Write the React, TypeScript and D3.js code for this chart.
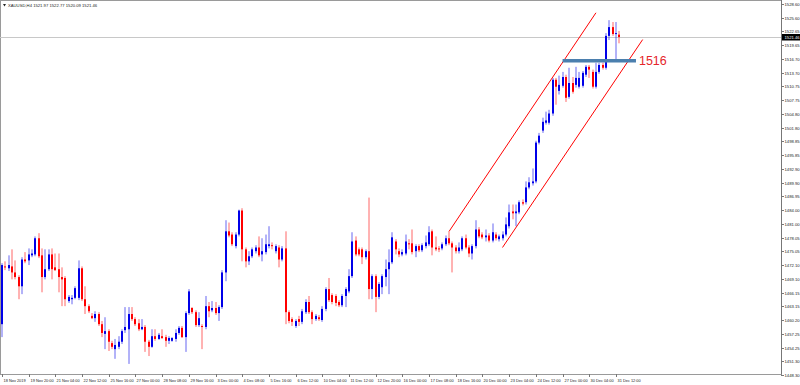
import React, { useEffect, useRef } from 'react';
import * as d3 from 'd3';

// XAUUSD H4, values
const symbol = 'XAUUSD,H4';

const opens = [
  1459.3, 1471.8, 1471.4, 1471.8, 1470.5, 1469.5, 1467.5, 1473.3, 1473.1, 1474.2,
  1474.4, 1477.9, 1474.2, 1469.5, 1471.2, 1474.4, 1471.6, 1471.2, 1469.5, 1469.3,
  1464.3, 1464.7, 1465.0, 1465.0, 1471.4, 1464.7, 1463.2, 1461.1, 1460.6, 1461.5,
  1459.3, 1457.2, 1457.8, 1455.2, 1453.9, 1454.4, 1455.5, 1458.0, 1458.2, 1461.5,
  1460.4, 1459.5, 1458.2, 1458.7, 1455.5, 1454.4, 1456.7, 1456.1, 1456.7, 1456.5,
  1455.7, 1455.7, 1456.1, 1457.4, 1458.5, 1456.5, 1461.7, 1462.8, 1461.9, 1459.1,
  1458.9, 1458.7, 1463.2, 1462.3, 1462.8, 1461.7, 1463.0, 1470.5, 1479.4, 1478.7,
  1476.2, 1478.7, 1483.9, 1475.5, 1472.9, 1474.0, 1475.1, 1475.9, 1474.4, 1474.9,
  1476.2, 1476.4, 1475.1, 1475.9, 1473.3, 1475.7, 1461.9, 1460.4, 1458.9, 1460.4,
  1459.8, 1461.9, 1464.1, 1461.9, 1460.4, 1460.8, 1460.2, 1462.6, 1466.9, 1465.6,
  1465.4, 1464.1, 1463.4, 1465.4, 1466.4, 1469.7, 1477.4, 1475.5, 1475.5, 1473.8,
  1475.1, 1466.9, 1469.7, 1465.2, 1467.3, 1469.5, 1471.2, 1472.7, 1477.2, 1475.1,
  1474.4, 1474.6, 1476.8, 1476.8, 1475.1, 1476.2, 1475.3, 1476.2, 1476.6, 1479.4,
  1475.9, 1475.7, 1475.7, 1476.6, 1477.9, 1476.8, 1475.9, 1475.1, 1475.5, 1477.9,
  1475.9, 1474.6, 1476.2, 1479.8, 1478.7, 1478.1, 1478.5, 1477.4, 1478.7, 1477.7,
  1477.9, 1478.7, 1480.5, 1483.7, 1483.3, 1483.5, 1485.7, 1485.7, 1488.9, 1489.8,
  1490.2, 1498.6, 1501.2, 1502.9, 1502.9, 1504.9, 1512.2, 1509.8, 1510.9, 1512.8,
  1508.5, 1511.5, 1511.1, 1510.7, 1510.9, 1513.3, 1515.0, 1513.9, 1510.7, 1513.9,
  1515.4, 1514.8, 1521.7, 1523.6, 1522.1, 1521.97,
];

const highs = [
  1472.5, 1472.9, 1474.2, 1475.5, 1473.1, 1469.9, 1473.8, 1474.9, 1475.7, 1475.5,
  1478.3, 1479.0, 1475.7, 1475.5, 1475.5, 1475.7, 1474.6, 1474.6, 1471.6, 1469.7,
  1465.6, 1465.6, 1467.5, 1473.1, 1471.8, 1467.5, 1463.6, 1461.7, 1462.1, 1461.9,
  1460.0, 1460.8, 1458.2, 1455.7, 1456.1, 1456.7, 1458.2, 1463.0, 1463.0, 1463.0,
  1460.8, 1460.4, 1460.4, 1459.1, 1455.9, 1458.2, 1458.2, 1457.4, 1458.2, 1457.0,
  1456.7, 1456.5, 1458.2, 1458.9, 1458.9, 1462.1, 1466.9, 1463.0, 1462.3, 1461.9,
  1459.3, 1465.4, 1464.1, 1464.3, 1464.1, 1463.4, 1471.0, 1481.8, 1481.3, 1479.2,
  1479.2, 1484.1, 1484.4, 1475.9, 1475.1, 1475.9, 1476.4, 1478.3, 1477.9, 1478.7,
  1480.5, 1477.0, 1476.6, 1476.4, 1476.2, 1479.4, 1462.3, 1460.8, 1460.4, 1461.1,
  1462.6, 1464.7, 1465.4, 1462.3, 1461.5, 1461.3, 1463.2, 1467.3, 1469.3, 1466.0,
  1465.8, 1464.5, 1465.8, 1467.3, 1471.2, 1479.2, 1478.3, 1475.9, 1475.9, 1475.5,
  1486.7, 1470.1, 1470.1, 1468.4, 1470.1, 1473.3, 1475.5, 1479.2, 1477.7, 1475.7,
  1475.5, 1478.7, 1477.7, 1479.8, 1476.6, 1476.6, 1476.8, 1478.5, 1480.5, 1479.8,
  1478.3, 1476.2, 1477.0, 1478.5, 1479.4, 1477.2, 1476.4, 1477.0, 1478.3, 1478.7,
  1476.4, 1476.6, 1481.8, 1480.3, 1479.2, 1479.8, 1479.0, 1481.1, 1479.2, 1478.7,
  1479.4, 1482.4, 1485.2, 1485.2, 1485.2, 1486.1, 1486.3, 1490.2, 1491.1, 1493.0,
  1499.0, 1500.7, 1504.0, 1505.3, 1505.7, 1512.6, 1512.6, 1513.1, 1513.9, 1513.3,
  1514.8, 1512.8, 1515.0, 1513.9, 1514.1, 1515.4, 1515.4, 1514.4, 1515.9, 1515.9,
  1515.9, 1522.3, 1525.1, 1524.7, 1524.7, 1522.77,
];

const lows = [
  1456.5, 1471.0, 1470.8, 1469.0, 1469.0, 1464.7, 1465.8, 1472.5, 1472.1, 1473.8,
  1474.0, 1473.6, 1466.2, 1469.0, 1470.8, 1469.0, 1470.8, 1466.2, 1463.2, 1463.2,
  1463.9, 1463.6, 1464.7, 1464.5, 1464.3, 1461.5, 1461.7, 1460.4, 1459.8, 1458.9,
  1456.5, 1453.9, 1453.5, 1453.9, 1451.8, 1453.9, 1455.0, 1457.4, 1450.7, 1460.0,
  1458.9, 1457.8, 1458.0, 1453.3, 1452.4, 1454.2, 1455.7, 1455.9, 1456.1, 1454.4,
  1455.0, 1455.5, 1455.5, 1457.0, 1456.3, 1453.3, 1461.3, 1461.5, 1458.7, 1458.7,
  1453.9, 1458.2, 1460.8, 1461.9, 1461.3, 1460.0, 1462.6, 1468.6, 1478.1, 1476.2,
  1475.7, 1478.3, 1472.9, 1471.6, 1472.1, 1473.6, 1474.6, 1473.8, 1472.9, 1474.4,
  1475.7, 1475.5, 1474.6, 1471.6, 1472.9, 1459.3, 1459.5, 1458.9, 1458.5, 1458.9,
  1459.3, 1461.5, 1461.5, 1459.3, 1460.0, 1460.0, 1459.8, 1462.1, 1464.1, 1463.6,
  1463.2, 1463.0, 1463.0, 1463.0, 1466.0, 1469.3, 1474.0, 1474.0, 1472.3, 1473.3,
  1464.7, 1464.7, 1461.9, 1464.7, 1465.8, 1467.5, 1465.8, 1472.3, 1474.4, 1473.8,
  1474.0, 1474.2, 1475.5, 1474.4, 1473.8, 1474.9, 1474.9, 1475.7, 1476.2, 1474.2,
  1475.1, 1474.9, 1475.3, 1476.2, 1476.4, 1470.5, 1474.6, 1474.6, 1475.1, 1475.5,
  1473.8, 1473.3, 1475.7, 1477.9, 1477.7, 1477.2, 1477.0, 1477.0, 1477.4, 1477.2,
  1477.4, 1478.3, 1480.0, 1482.0, 1480.5, 1483.1, 1485.0, 1485.2, 1488.5, 1489.3,
  1489.8, 1498.2, 1500.7, 1502.5, 1502.5, 1504.4, 1506.8, 1509.0, 1510.5, 1507.4,
  1508.1, 1509.2, 1510.5, 1510.3, 1510.5, 1512.8, 1512.6, 1510.3, 1510.3, 1513.5,
  1514.4, 1514.4, 1520.8, 1521.7, 1516.5, 1520.09,
];

const closes = [
  1472.1, 1471.6, 1472.1, 1470.5, 1469.5, 1467.5, 1473.3, 1472.9, 1474.4, 1474.6,
  1477.9, 1474.0, 1469.5, 1471.2, 1474.4, 1471.2, 1471.0, 1469.5, 1469.0, 1464.7,
  1465.2, 1465.0, 1467.1, 1471.4, 1464.7, 1463.2, 1462.1, 1460.6, 1461.5, 1459.3,
  1457.4, 1457.8, 1455.5, 1454.4, 1454.8, 1455.5, 1457.8, 1458.7, 1461.5, 1460.4,
  1459.3, 1458.2, 1458.7, 1455.5, 1454.4, 1456.7, 1456.1, 1457.0, 1456.3, 1455.7,
  1456.3, 1456.3, 1457.4, 1458.5, 1456.5, 1461.7, 1466.4, 1461.9, 1459.1, 1460.6,
  1458.7, 1463.2, 1462.1, 1462.8, 1461.7, 1463.0, 1470.5, 1479.4, 1478.5, 1476.6,
  1478.7, 1483.9, 1475.5, 1472.9, 1474.0, 1475.5, 1475.9, 1474.2, 1475.1, 1476.6,
  1476.6, 1476.2, 1476.2, 1473.3, 1475.7, 1461.9, 1460.0, 1459.8, 1460.0, 1459.8,
  1462.1, 1464.1, 1461.9, 1460.4, 1461.1, 1460.4, 1462.6, 1466.9, 1464.5, 1464.1,
  1463.9, 1463.4, 1465.4, 1466.9, 1469.7, 1477.2, 1474.4, 1474.4, 1473.8, 1475.1,
  1466.9, 1469.7, 1465.2, 1468.0, 1469.7, 1471.2, 1472.7, 1478.1, 1475.5, 1474.4,
  1474.9, 1477.2, 1476.6, 1474.9, 1476.2, 1475.3, 1476.4, 1477.0, 1479.2, 1475.9,
  1475.5, 1475.5, 1476.6, 1477.9, 1476.8, 1475.9, 1475.1, 1475.9, 1477.9, 1475.9,
  1474.6, 1476.2, 1479.8, 1478.3, 1478.1, 1478.5, 1477.4, 1479.2, 1477.9, 1478.3,
  1478.7, 1480.9, 1483.5, 1483.3, 1483.7, 1485.7, 1485.4, 1488.9, 1490.0, 1490.2,
  1498.6, 1500.1, 1503.1, 1503.4, 1504.9, 1512.2, 1510.7, 1511.1, 1512.8, 1508.3,
  1511.5, 1509.6, 1512.6, 1512.6, 1513.7, 1515.0, 1514.4, 1510.7, 1513.9, 1515.4,
  1514.8, 1521.7, 1523.6, 1522.1, 1522.3, 1521.46,
];

const priceTicks = [
  '1528.60', '1525.60', '1522.65', '1519.65', '1516.70', '1513.70', '1510.75',
  '1507.75', '1504.80', '1501.80', '1498.85', '1495.85', '1492.90', '1489.90',
  '1486.95', '1484.00', '1481.00', '1478.05', '1475.05', '1472.10', '1469.10',
  '1466.15', '1463.15', '1460.20', '1457.25', '1454.25', '1451.30', '1448.30',
];

// one label every 8 bars
const timeLabels = [
  '18 Nov 2019', '19 Nov 20:00', '21 Nov 04:00', '22 Nov 12:00', '25 Nov 16:00',
  '27 Nov 00:00', '28 Nov 08:00', '29 Nov 16:00', '3 Dec 00:00', '4 Dec 08:00',
  '5 Dec 16:00', '6 Dec 12:00', '10 Dec 04:00', '11 Dec 12:00', '12 Dec 20:00',
  '16 Dec 00:00', '17 Dec 08:00', '18 Dec 16:00', '20 Dec 00:00', '23 Dec 04:00',
  '24 Dec 12:00', '27 Dec 00:00', '30 Dec 04:00', '31 Dec 12:00',
];

// drawn objects: [bar index, price]
const upperChannel = [[134, 1479.4], [178, 1526.7]];
const lowerChannel = [[150, 1475.9], [192, 1520.9]];
const levelPrice = 1516.3;
const levelBars = [168, 190];
const levelText = '1516';

const BLUE = '#0000e8';
const RED = '#ff0000';
const FONT = '"Liberation Sans", Arial, sans-serif';

export default function App() {
  const ref = useRef<SVGSVGElement>(null);

  useEffect(() => {
    document.body.style.margin = '0';
    const svg = d3.select(ref.current);
    svg.selectAll('*').remove();

    const plotRight = 781;
    const plotBottom = 374;
    const n = closes.length;

    const x = d3.scaleLinear().domain([0, n - 1]).range([2, 619.3]);
    const y = d3.scaleLinear()
      .domain([+priceTicks[priceTicks.length - 1], +priceTicks[0]])
      .range([375, 4]);

    svg.append('rect')
      .attr('width', 800).attr('height', 385).attr('fill', '#fff');

    // frame
    svg.append('rect')
      .attr('x', 0.5).attr('y', 0.5)
      .attr('width', plotRight).attr('height', plotBottom)
      .attr('fill', 'none').attr('stroke', '#9a9a9a').attr('stroke-width', 1);

    // current price line
    const last = closes[n - 1];
    const yl = Math.round(y(last)) + 0.5;
    svg.append('line')
      .attr('x1', 0).attr('x2', plotRight).attr('y1', yl).attr('y2', yl)
      .attr('stroke', '#c8c8c8').attr('stroke-width', 1);

    // candles
    const bars = d3.range(n);
    const g = svg.append('g');
    g.selectAll('line.wick')
      .data(bars)
      .enter().append('line')
      .attr('class', 'wick')
      .attr('x1', i => Math.round(x(i)))
      .attr('x2', i => Math.round(x(i)))
      .attr('y1', i => y(highs[i]))
      .attr('y2', i => y(lows[i]))
      .attr('stroke', i => (closes[i] >= opens[i] ? BLUE : RED))
      .attr('stroke-opacity', 0.6)
      .attr('stroke-width', 1);

    g.selectAll('rect.body')
      .data(bars)
      .enter().append('rect')
      .attr('class', 'body')
      .attr('x', i => Math.round(x(i)) - 1)
      .attr('width', 2)
      .attr('y', i => y(Math.max(opens[i], closes[i])))
      .attr('height', i => Math.max(1, Math.abs(y(opens[i]) - y(closes[i]))))
      .attr('fill', i => (closes[i] >= opens[i] ? BLUE : RED));

    // channel
    const line = d3.line<number[]>().x(d => x(d[0])).y(d => y(d[1]));
    [upperChannel, lowerChannel].forEach(pts => {
      svg.append('path')
        .attr('d', line(pts))
        .attr('fill', 'none')
        .attr('stroke', RED)
        .attr('stroke-width', 1);
    });

    // level 1516
    svg.append('line')
      .attr('x1', x(levelBars[0])).attr('x2', x(levelBars[1]))
      .attr('y1', y(levelPrice)).attr('y2', y(levelPrice))
      .attr('stroke', '#4b7fae').attr('stroke-width', 3.5);
    svg.append('text')
      .attr('x', x(levelBars[1]) + 3)
      .attr('y', y(levelPrice) + 4.5)
      .attr('font-family', FONT)
      .attr('font-size', 12.5)
      .attr('fill', '#e5262a')
      .text(levelText);

    // price axis
    const axis = svg.append('g').attr('font-family', FONT).attr('font-size', 4.2).attr('fill', '#222');
    axis.append('line')
      .attr('x1', plotRight + 0.5).attr('x2', plotRight + 0.5)
      .attr('y1', 0).attr('y2', plotBottom + 0.5)
      .attr('stroke', '#777');
    priceTicks.forEach(t => {
      const yy = Math.round(y(+t)) + 0.5;
      axis.append('line')
        .attr('x1', plotRight).attr('x2', plotRight + 3)
        .attr('y1', yy).attr('y2', yy)
        .attr('stroke', '#777');
      axis.append('text')
        .attr('x', plotRight + 3.5).attr('y', yy + 1.5)
        .text(t);
    });

    // last price tag
    axis.append('rect')
      .attr('x', plotRight + 1).attr('y', yl - 3.5)
      .attr('width', 18).attr('height', 6.5)
      .attr('fill', '#000');
    axis.append('text')
      .attr('x', plotRight + 3.5).attr('y', yl + 1.5)
      .attr('fill', '#fff')
      .text(last.toFixed(2));

    // time axis
    timeLabels.forEach((t, j) => {
      const xx = Math.round(x(j * 8)) + 0.5;
      axis.append('line')
        .attr('x1', xx).attr('x2', xx)
        .attr('y1', plotBottom).attr('y2', plotBottom + 3)
        .attr('stroke', '#777');
      axis.append('text')
        .attr('x', xx + 1).attr('y', 382)
        .attr('font-size', 3.9)
        .text(t);
    });

    // header
    svg.append('path')
      .attr('d', 'M3,4 L6,4 L4.5,6.5 Z')
      .attr('fill', '#222');
    svg.append('text')
      .attr('x', 8).attr('y', 6.5)
      .attr('font-family', FONT).attr('font-size', 4.2).attr('fill', '#222')
      .text(`${symbol} ${opens[n - 1].toFixed(2)} ${highs[n - 1].toFixed(2)} ${lows[n - 1].toFixed(2)} ${last.toFixed(2)}`);
  }, []);

  return <svg ref={ref} width={800} height={385} style={{ display: 'block' }} />;
}
